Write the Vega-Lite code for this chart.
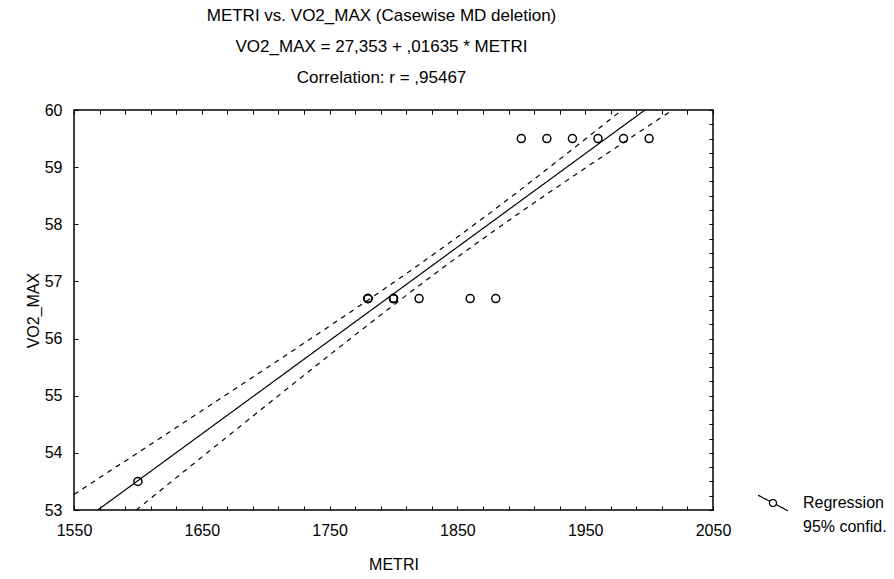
{
  "$schema": "https://vega.github.io/schema/vega-lite/v6.json",
  "autosize": "none",
  "width": 639,
  "height": 400,
  "padding": {"left": 74, "top": 110, "right": 181, "bottom": 69},
  "background": "white",
  "config": {
    "font": "Liberation Sans",
    "view": {"stroke": "#000", "strokeWidth": 1.5},
    "axis": {"labelFontSize": 16, "titleFontSize": 16, "titleFontWeight": "normal", "labelColor": "#000", "titleColor": "#000", "tickColor": "#000", "domain": false}
  },
  "title": {
    "text": ["METRI vs. VO2_MAX (Casewise MD deletion)", "VO2_MAX = 27,353 + ,01635 * METRI", "Correlation: r = ,95467"],
    "fontSize": 17, "fontWeight": "normal", "color": "#000", "lineHeight": 31, "offset": 15, "anchor": "middle", "dx": -12
  },
  "datasets": {
    "points": [
      {"METRI": 1600, "VO2_MAX": 53.5},
      {"METRI": 1780, "VO2_MAX": 56.7}, {"METRI": 1780, "VO2_MAX": 56.7}, {"METRI": 1780, "VO2_MAX": 56.7},
      {"METRI": 1800, "VO2_MAX": 56.7}, {"METRI": 1800, "VO2_MAX": 56.7}, {"METRI": 1800, "VO2_MAX": 56.7},
      {"METRI": 1820, "VO2_MAX": 56.7},
      {"METRI": 1860, "VO2_MAX": 56.7},
      {"METRI": 1880, "VO2_MAX": 56.7},
      {"METRI": 1900, "VO2_MAX": 59.5},
      {"METRI": 1920, "VO2_MAX": 59.5},
      {"METRI": 1940, "VO2_MAX": 59.5},
      {"METRI": 1960, "VO2_MAX": 59.5},
      {"METRI": 1980, "VO2_MAX": 59.5},
      {"METRI": 2000, "VO2_MAX": 59.5}
    ],
    "curves": [
      {"METRI": 1550, "VO2_MAX": 52.696, "curve": "reg", "series": "Regression"},
      {"METRI": 1600, "VO2_MAX": 53.513, "curve": "reg", "series": "Regression"},
      {"METRI": 1650, "VO2_MAX": 54.331, "curve": "reg", "series": "Regression"},
      {"METRI": 1700, "VO2_MAX": 55.148, "curve": "reg", "series": "Regression"},
      {"METRI": 1750, "VO2_MAX": 55.966, "curve": "reg", "series": "Regression"},
      {"METRI": 1800, "VO2_MAX": 56.783, "curve": "reg", "series": "Regression"},
      {"METRI": 1850, "VO2_MAX": 57.601, "curve": "reg", "series": "Regression"},
      {"METRI": 1900, "VO2_MAX": 58.418, "curve": "reg", "series": "Regression"},
      {"METRI": 1950, "VO2_MAX": 59.236, "curve": "reg", "series": "Regression"},
      {"METRI": 2000, "VO2_MAX": 60.053, "curve": "reg", "series": "Regression"},
      {"METRI": 2050, "VO2_MAX": 60.871, "curve": "reg", "series": "Regression"},
      {"METRI": 1550, "VO2_MAX": 53.272, "curve": "upper", "series": "95% confid."},
      {"METRI": 1575, "VO2_MAX": 53.637, "curve": "upper", "series": "95% confid."},
      {"METRI": 1600, "VO2_MAX": 54.003, "curve": "upper", "series": "95% confid."},
      {"METRI": 1625, "VO2_MAX": 54.369, "curve": "upper", "series": "95% confid."},
      {"METRI": 1650, "VO2_MAX": 54.737, "curve": "upper", "series": "95% confid."},
      {"METRI": 1675, "VO2_MAX": 55.104, "curve": "upper", "series": "95% confid."},
      {"METRI": 1700, "VO2_MAX": 55.473, "curve": "upper", "series": "95% confid."},
      {"METRI": 1725, "VO2_MAX": 55.845, "curve": "upper", "series": "95% confid."},
      {"METRI": 1750, "VO2_MAX": 56.219, "curve": "upper", "series": "95% confid."},
      {"METRI": 1775, "VO2_MAX": 56.596, "curve": "upper", "series": "95% confid."},
      {"METRI": 1800, "VO2_MAX": 56.980, "curve": "upper", "series": "95% confid."},
      {"METRI": 1825, "VO2_MAX": 57.373, "curve": "upper", "series": "95% confid."},
      {"METRI": 1850, "VO2_MAX": 57.776, "curve": "upper", "series": "95% confid."},
      {"METRI": 1875, "VO2_MAX": 58.190, "curve": "upper", "series": "95% confid."},
      {"METRI": 1900, "VO2_MAX": 58.615, "curve": "upper", "series": "95% confid."},
      {"METRI": 1925, "VO2_MAX": 59.049, "curve": "upper", "series": "95% confid."},
      {"METRI": 1950, "VO2_MAX": 59.489, "curve": "upper", "series": "95% confid."},
      {"METRI": 1975, "VO2_MAX": 59.932, "curve": "upper", "series": "95% confid."},
      {"METRI": 2000, "VO2_MAX": 60.378, "curve": "upper", "series": "95% confid."},
      {"METRI": 2025, "VO2_MAX": 60.827, "curve": "upper", "series": "95% confid."},
      {"METRI": 2050, "VO2_MAX": 61.277, "curve": "upper", "series": "95% confid."},
      {"METRI": 1550, "VO2_MAX": 52.120, "curve": "lower", "series": "95% confid."},
      {"METRI": 1575, "VO2_MAX": 52.571, "curve": "lower", "series": "95% confid."},
      {"METRI": 1600, "VO2_MAX": 53.023, "curve": "lower", "series": "95% confid."},
      {"METRI": 1625, "VO2_MAX": 53.475, "curve": "lower", "series": "95% confid."},
      {"METRI": 1650, "VO2_MAX": 53.925, "curve": "lower", "series": "95% confid."},
      {"METRI": 1675, "VO2_MAX": 54.374, "curve": "lower", "series": "95% confid."},
      {"METRI": 1700, "VO2_MAX": 54.823, "curve": "lower", "series": "95% confid."},
      {"METRI": 1725, "VO2_MAX": 55.269, "curve": "lower", "series": "95% confid."},
      {"METRI": 1750, "VO2_MAX": 55.713, "curve": "lower", "series": "95% confid."},
      {"METRI": 1775, "VO2_MAX": 56.152, "curve": "lower", "series": "95% confid."},
      {"METRI": 1800, "VO2_MAX": 56.586, "curve": "lower", "series": "95% confid."},
      {"METRI": 1825, "VO2_MAX": 57.011, "curve": "lower", "series": "95% confid."},
      {"METRI": 1850, "VO2_MAX": 57.426, "curve": "lower", "series": "95% confid."},
      {"METRI": 1875, "VO2_MAX": 57.828, "curve": "lower", "series": "95% confid."},
      {"METRI": 1900, "VO2_MAX": 58.221, "curve": "lower", "series": "95% confid."},
      {"METRI": 1925, "VO2_MAX": 58.605, "curve": "lower", "series": "95% confid."},
      {"METRI": 1950, "VO2_MAX": 58.983, "curve": "lower", "series": "95% confid."},
      {"METRI": 1975, "VO2_MAX": 59.356, "curve": "lower", "series": "95% confid."},
      {"METRI": 2000, "VO2_MAX": 59.728, "curve": "lower", "series": "95% confid."},
      {"METRI": 2025, "VO2_MAX": 60.097, "curve": "lower", "series": "95% confid."},
      {"METRI": 2050, "VO2_MAX": 60.465, "curve": "lower", "series": "95% confid."}
    ]
  },
  "resolve": {"axis": {"x": "independent", "y": "independent"}},
  "layer": [
    {
      "data": {"name": "curves"},
      "mark": {"type": "line", "clip": true, "color": "#000", "strokeWidth": 1.2},
      "encoding": {
        "x": {"field": "METRI", "type": "quantitative", "scale": {"domain": [1550, 2050], "nice": false, "zero": false},
          "axis": {"orient": "top", "title": null, "labels": false, "grid": false, "tickSize": -4,
            "values": [1550,1570,1590,1610,1630,1650,1670,1690,1710,1730,1750,1770,1790,1810,1830,1850,1870,1890,1910,1930,1950,1970,1990,2010,2030,2050]}},
        "y": {"field": "VO2_MAX", "type": "quantitative", "scale": {"domain": [53, 60], "nice": false, "zero": false},
          "axis": {"orient": "right", "title": null, "labels": false, "grid": false, "tickSize": -4,
            "values": [53,53.25,53.5,53.75,54,54.25,54.5,54.75,55,55.25,55.5,55.75,56,56.25,56.5,56.75,57,57.25,57.5,57.75,58,58.25,58.5,58.75,59,59.25,59.5,59.75,60]}},
        "detail": {"field": "curve"},
        "strokeDash": {"field": "series", "type": "nominal",
          "scale": {"domain": ["Regression", "95% confid."], "range": [[1, 0], [5, 5]]},
          "legend": {"title": null, "orient": "none", "legendX": 687, "legendY": 381,
            "symbolType": "M-1.36,-0.71L-0.284,-0.148M0.284,0.148L1.36,0.71M0.32,0A0.32,0.32 0 1,1 -0.32,0A0.32,0.32 0 1,1 0.32,0Z",
            "symbolSize": 484, "symbolStrokeColor": "#000", "symbolFillColor": "#fff", "symbolStrokeWidth": 1.2,
            "labelFontSize": 16, "labelColor": "#000", "labelOffset": 18, "rowPadding": 1, "padding": 0,
            "labelLimit": 200,
            "encode": {"symbols": {"update": {"opacity": {"signal": "datum.value === 'Regression' ? 1 : 0"}, "strokeDash": {"value": [1, 0]}}}}}}
      }
    },
    {
      "data": {"name": "points"},
      "mark": {"type": "point", "shape": "circle", "filled": false, "color": "#000", "strokeWidth": 1.5, "size": 64, "opacity": 1},
      "encoding": {
        "x": {"field": "METRI", "type": "quantitative",
          "axis": {"orient": "bottom", "title": "METRI", "titlePadding": 18, "tickSize": -4, "labelPadding": 16, "format": "d",
            "values": [1550,1570,1590,1610,1630,1650,1670,1690,1710,1730,1750,1770,1790,1810,1830,1850,1870,1890,1910,1930,1950,1970,1990,2010,2030,2050],
            "labelExpr": "(datum.value - 1550) % 100 == 0 ? datum.label : ''",
            "labelFlush": false, "labelOverlap": false,
            "gridColor": "#000", "gridDash": [1, 3], "gridWidth": 1,
            "gridOpacity": {"condition": {"test": "(datum.value - 1550) % 100 == 0 && datum.value > 1550 && datum.value < 2050", "value": 0.8}, "value": 0}}},
        "y": {"field": "VO2_MAX", "type": "quantitative",
          "axis": {"orient": "left", "title": "VO2_MAX", "titlePadding": 3, "tickSize": -4, "labelPadding": 16, "format": "d",
            "values": [53,53.25,53.5,53.75,54,54.25,54.5,54.75,55,55.25,55.5,55.75,56,56.25,56.5,56.75,57,57.25,57.5,57.75,58,58.25,58.5,58.75,59,59.25,59.5,59.75,60],
            "labelExpr": "datum.value % 1 == 0 ? datum.label : ''",
            "labelFlush": false, "labelOverlap": false,
            "gridColor": "#000", "gridDash": [1, 3], "gridWidth": 1,
            "gridOpacity": {"condition": {"test": "datum.value % 1 == 0 && datum.value > 53 && datum.value < 60", "value": 0.8}, "value": 0}}}
      }
    }
  ]
}
